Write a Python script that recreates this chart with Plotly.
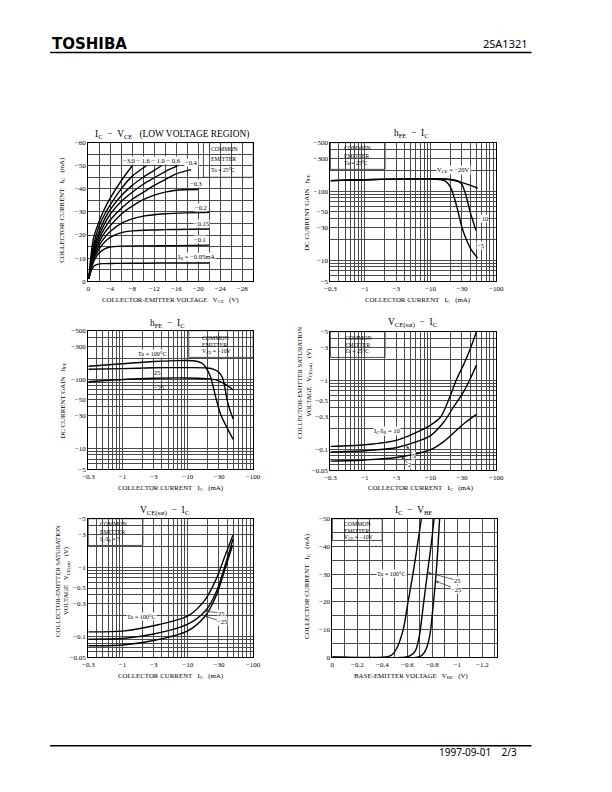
"""
2SA1321 datasheet page 2/3: six characteristic curves redrawn with plotly.

All currents / voltages are stored as magnitudes (the part is PNP, the
datasheet prints them as negative numbers, so the tick labels carry the sign).
"""

import math

import plotly.graph_objects as go

PAGE_W, PAGE_H = 612, 792
OX, OY = 8, 8  # default <body> margin of the page plotly writes
W, H = PAGE_W - 2 * OX, PAGE_H - 2 * OY
SERIF = "Liberation Serif"
M = "\u2212"  # minus sign
SP = "\u00a0"

# ---------------- IC - VCE (low voltage region), Ta = 25C ----------------
vce_ib005 = [0.1, 0.3, 0.6, 1.0, 1.5, 2.5, 5, 10, 16, 22]
ic_ib005 = [1, 2.8, 4.8, 6.4, 7.2, 7.6, 7.7, 7.8, 7.9, 7.9]
vce_ib01 = [0.1, 0.5, 1, 1.5, 2, 3, 4, 6, 10, 16, 22]
ic_ib01 = [1, 5, 8.5, 10.8, 12.3, 14, 14.8, 15.2, 15.3, 15.4, 15.6]
vce_ib015 = [0.1, 0.5, 1, 2, 3, 4, 6, 8, 12, 16, 22]
ic_ib015 = [1, 5.5, 9.5, 14, 17, 19, 21, 21.8, 22.2, 22.4, 22.6]
vce_ib02 = [0.1, 0.5, 1, 2, 3, 4, 6, 8, 10, 14, 18, 22]
ic_ib02 = [1, 6, 10.5, 15.5, 19, 21.5, 25, 27, 28.2, 29.2, 29.6, 29.8]
vce_ib03 = [0.1, 0.5, 1, 2, 3, 4, 6, 8, 10, 12, 14, 16, 20]
ic_ib03 = [1, 6.5, 11.5, 17, 21, 24, 29, 32.5, 35.3, 37.3, 38.6, 39.4, 39.7]
vce_ib04 = [0.1, 0.5, 1, 2, 3, 4, 6, 8, 10, 12, 14, 16, 18.7]
ic_ib04 = [1, 7, 12.5, 18.5, 23, 26.5, 31.5, 35.5, 38.5, 41.5, 44, 46.5, 48.3]
vce_ib06 = [0.1, 0.5, 1, 2, 3, 4, 6, 8, 10, 12, 14, 16.3]
ic_ib06 = [1, 7.5, 13.5, 20, 25, 29, 34.5, 38.5, 42, 44.8, 47.5, 50]
vce_ib10 = [0.1, 0.5, 1, 2, 3, 4, 6, 8, 10, 12, 13.3]
ic_ib10 = [1, 8, 14.5, 21.5, 27, 31, 37, 41.5, 45, 48, 50]
vce_ib16 = [0.1, 0.5, 1, 2, 3, 4, 6, 8, 10.6]
ic_ib16 = [1, 9, 16, 24, 29, 33, 40, 45.5, 50]
vce_ib30 = [0.1, 0.5, 1, 2, 3, 4, 6, 8]
ic_ib30 = [1, 11, 19, 26, 31.5, 36, 43.5, 50]

# ---------------- hFE - IC, Ta = 25C, VCE varies ----------------
ic_vce20 = [0.3, 1, 3, 10, 15, 20, 25, 30, 40, 52]
hfe_vce20 = [142, 146, 149, 151, 150, 146, 140, 133, 122, 110]
ic_vce10 = [0.3, 1, 3, 10, 20, 26, 30, 33, 36, 40, 45, 49]
hfe_vce10 = [142, 146, 149, 151, 148, 140, 125, 100, 75, 50, 35, 27]
ic_vce5 = [0.3, 1, 3, 10, 14, 17, 20, 23, 26, 30, 35, 42, 52]
hfe_vce5 = [142, 146, 149, 150, 147, 138, 115, 80, 52, 30, 20, 14, 10.8]

# ---------------- hFE - IC, VCE = -10V, temperature ----------------
ic_t100 = [0.3, 1, 3, 7, 10, 13, 16, 18, 20, 22.7, 27, 32, 40, 49.5]
hfe_t100 = [154, 167, 180, 185, 186, 183, 172, 158, 135, 102, 53, 30.5, 19.7, 13.4]
ic_t25 = [0.3, 1, 3, 10, 20, 25, 30, 34, 37, 40, 44, 49.5]
hfe_t25 = [139, 142, 146, 147, 145, 138, 125, 105, 75, 50, 36, 26.5]
ic_tm25 = [0.3, 1, 3, 10, 18, 28, 36, 45, 49.5]
hfe_tm25 = [91.5, 98.7, 103, 104, 102, 97, 86, 75, 69.5]

# ---------------- VCE(sat) - IC, Ta = 25C, IC/IB varies ----------------
ic_r10 = [0.3, 1, 3.2, 10, 14.3, 20, 25, 31.6, 40, 50]
vs_r10 = [0.110, 0.116, 0.137, 0.224, 0.295, 0.60, 1.04, 1.65, 2.8, 5.0]
ic_r5 = [0.3, 1, 3.2, 10, 16, 22.4, 31.6, 40, 50]
vs_r5 = [0.0914, 0.095, 0.107, 0.158, 0.25, 0.41, 0.67, 1.04, 1.65]
ic_r2 = [0.3, 1, 3.2, 10, 16, 25, 35, 50]
vs_r2 = [0.0673, 0.070, 0.0767, 0.0986, 0.13, 0.19, 0.25, 0.32]

# ---------------- VCE(sat) - IC, IC/IB = 5, temperature ----------------
ic_s100 = [0.3, 1, 3, 10, 18.5, 27.6, 36.7, 49]
vs_s100 = [0.116, 0.119, 0.142, 0.197, 0.34, 0.695, 1.42, 2.89]
ic_s25 = [0.3, 1, 3, 10, 18.5, 27.6, 36.7, 49.5]
vs_s25 = [0.091, 0.093, 0.108, 0.150, 0.232, 0.45, 1.02, 2.59]
ic_sm25 = [0.3, 1, 3, 10, 18.5, 27.6, 36.7, 48.5]
vs_sm25 = [0.073, 0.075, 0.087, 0.12, 0.197, 0.40, 0.91, 2.08]

# ---------------- IC - VBE, VCE = -10V ----------------
vbe_b100 = [0, 0.40, 0.45, 0.48, 0.51, 0.54, 0.57, 0.60, 0.65, 0.712]
ic_b100 = [0, 0, 0.3, 1, 2.8, 6, 10.5, 18.5, 31.5, 50]
vbe_b25 = [0, 0.58, 0.63, 0.665, 0.696, 0.73, 0.761, 0.79, 0.814]
ic_b25 = [0, 0, 0.8, 2.4, 7.7, 19.6, 30.6, 40.5, 50]
vbe_bm25 = [0, 0.68, 0.72, 0.75, 0.78, 0.805, 0.825, 0.843, 0.858]
ic_bm25 = [0, 0, 0.8, 3, 8, 18, 27.5, 38.5, 50]

# tick labels
ic_log_ticks = [0.3, 1, 3, 10, 30, 100]
hfe_ticks = [5, 10, 30, 50, 100, 300, 500]
vsat_ticks = [0.05, 0.1, 0.3, 0.5, 1, 3, 5]


def px(x):
    return (x - OX) / W


def py(y):
    return 1 - (y - OY) / H


def neg(v):
    return "0" if v == 0 else M + f"{v:g}"


def log_grid(lo, hi):
    vals = []
    for k in range(-3, 4):
        for m in range(1, 10):
            v = round(m * 10 ** k, 6)
            if lo - 1e-9 <= v <= hi + 1e-9:
                vals.append(v)
    return vals


def lin_grid(hi, step):
    n = int(round(hi / step))
    return [round(i * step, 6) for i in range(n + 1)]


AX = dict(showline=True, mirror=True, linecolor="black", linewidth=1.1,
          showgrid=True, gridcolor="#4a4a4a", gridwidth=0.6, zeroline=False,
          ticks="", tickfont=dict(family=SERIF, size=7, color="black"),
          fixedrange=True, tickangle=0)


def log_axis(domain, lo, hi, labels):
    grid = log_grid(lo, hi)
    text = [neg(v) if any(abs(v - t) < 1e-9 for t in labels) else "" for v in grid]
    return dict(AX, type="log", domain=domain,
                range=[math.log10(lo) - 0.002, math.log10(hi) + 0.002],
                tickmode="array", tickvals=grid, ticktext=text)


def lin_axis(domain, hi, step, label_step, label_max):
    grid = lin_grid(hi, step)
    text = []
    for v in grid:
        r = round(v / label_step, 6)
        text.append(neg(v) if abs(r - round(r)) < 1e-6 and v <= label_max + 1e-9 else "")
    return dict(AX, type="linear", domain=domain, range=[0, hi],
                tickmode="array", tickvals=grid, ticktext=text)


# plot boxes in page pixels: x0, x1, y0 (top), y1 (bottom)
boxes = {
    1: (84, 253, 140, 280),
    2: (332, 502, 140, 280),
    3: (84, 253, 330, 470),
    4: (332, 502, 331, 471),
    5: (84, 253, 520, 660),
    6: (334, 503, 520, 660),
}


def dom(i):
    x0, x1, y0, y1 = boxes[i]
    return [px(x0), px(x1)], [py(y1), py(y0)]


fig = go.Figure()

line = dict(color="black", width=1.4, shape="spline", smoothing=0.8)


def curve(i, x, y):
    fig.add_trace(go.Scatter(x=x, y=y, mode="lines", line=line,
                             xaxis=f"x{i}", yaxis=f"y{i}",
                             showlegend=False, hoverinfo="skip"))


for vx, vy in [(vce_ib005, ic_ib005), (vce_ib01, ic_ib01), (vce_ib015, ic_ib015),
               (vce_ib02, ic_ib02), (vce_ib03, ic_ib03), (vce_ib04, ic_ib04),
               (vce_ib06, ic_ib06), (vce_ib10, ic_ib10), (vce_ib16, ic_ib16),
               (vce_ib30, ic_ib30)]:
    curve(1, vx, vy)
for vx, vy in [(ic_vce20, hfe_vce20), (ic_vce10, hfe_vce10), (ic_vce5, hfe_vce5)]:
    curve(2, vx, vy)
for vx, vy in [(ic_t100, hfe_t100), (ic_t25, hfe_t25), (ic_tm25, hfe_tm25)]:
    curve(3, vx, vy)
for vx, vy in [(ic_r10, vs_r10), (ic_r5, vs_r5), (ic_r2, vs_r2)]:
    curve(4, vx, vy)
for vx, vy in [(ic_s100, vs_s100), (ic_s25, vs_s25), (ic_sm25, vs_sm25)]:
    curve(5, vx, vy)
for vx, vy in [(vbe_b100, ic_b100), (vbe_b25, ic_b25), (vbe_bm25, ic_bm25)]:
    curve(6, vx, vy)

layout_axes = {}
d = dom(1)
layout_axes["xaxis"] = lin_axis(d[0], 30, 2, 4, 28)
layout_axes["yaxis"] = lin_axis(d[1], 60, 5, 10, 60)
d = dom(2)
layout_axes["xaxis2"] = log_axis(d[0], 0.3, 100, ic_log_ticks)
layout_axes["yaxis2"] = log_axis(d[1], 5, 500, hfe_ticks)
d = dom(3)
layout_axes["xaxis3"] = log_axis(d[0], 0.3, 100, ic_log_ticks)
layout_axes["yaxis3"] = log_axis(d[1], 5, 500, hfe_ticks)
d = dom(4)
layout_axes["xaxis4"] = log_axis(d[0], 0.3, 100, ic_log_ticks)
layout_axes["yaxis4"] = log_axis(d[1], 0.05, 5, vsat_ticks)
d = dom(5)
layout_axes["xaxis5"] = log_axis(d[0], 0.3, 100, ic_log_ticks)
layout_axes["yaxis5"] = log_axis(d[1], 0.05, 5, vsat_ticks)
d = dom(6)
layout_axes["xaxis6"] = lin_axis(d[0], 1.32, 0.1, 0.2, 1.2)
layout_axes["yaxis6"] = lin_axis(d[1], 50, 5, 10, 50)
for i in range(1, 7):
    k = "" if i == 1 else str(i)
    layout_axes[f"xaxis{k}"]["anchor"] = f"y{k}" if k else "y"
    layout_axes[f"yaxis{k}"]["anchor"] = f"x{k}" if k else "x"


def text(x, y, s, size=6.5, bg=None, xanchor="center", yanchor="middle", **kw):
    fig.add_annotation(x=px(x), y=py(y), xref="paper", yref="paper", text=s,
                       showarrow=False, bgcolor=bg, borderpad=0,
                       xanchor=xanchor, yanchor=yanchor,
                       font=dict(family=SERIF, size=size, color="black"), **kw)


def stack(x, ys, rows):
    # condition block, one annotation per row so the spacing follows the sheet
    for yy, row in zip(ys, rows):
        text(x, yy, row, size=5.8, xanchor="left")


def arrow(i, x, y, s, ax, ay):
    fig.add_annotation(x=x, y=y, xref=f"x{i}", yref=f"y{i}", text=s,
                       showarrow=True, arrowhead=2, arrowsize=0.7, arrowwidth=0.8,
                       ax=ax, ay=ay, standoff=0, bgcolor="white", borderpad=0,
                       font=dict(family=SERIF, size=6.5, color="black"))


def white_box(x0, x1, y0, y1):
    fig.add_shape(type="rect", xref="paper", yref="paper",
                  x0=px(x0), x1=px(x1), y0=py(y1), y1=py(y0),
                  fillcolor="white", line=dict(color="black", width=0.7),
                  layer="between")


# titles
TS = 9.4
text(170, 131.5, f"I<sub>C</sub>{SP}{SP}{M}{SP}{SP}V<sub>CE</sub>{SP}{SP}{SP}(LOW VOLTAGE REGION)", size=TS)
text(415, 131, f"h<sub>FE</sub>{SP}{SP}{M}{SP}{SP}I<sub>C</sub>", size=TS)
text(165, 323, f"h<sub>FE</sub>{SP}{SP}{M}{SP}{SP}I<sub>C</sub>", size=TS)
text(417, 322, f"V<sub>CE(sat)</sub>{SP}{SP}{M}{SP}{SP}I<sub>C</sub>", size=TS)
text(163, 512, f"V<sub>CE(sat)</sub>{SP}{SP}{M}{SP}{SP}I<sub>C</sub>", size=TS)
text(417, 512, f"I<sub>C</sub>{SP}{SP}{M}{SP}{SP}V<sub>BE</sub>", size=TS)

# axis titles
AS = 6.9
ic_title = f"COLLECTOR CURRENT{SP}{SP}{SP}I<sub>C</sub>{SP}{SP}{SP}(mA)"
hfe_title = f"DC CURRENT GAIN{SP}{SP}{SP}h<sub>FE</sub>"
vsat_title = (f"COLLECTOR-EMITTER SATURATION<br>VOLTAGE{SP}{SP}{SP}V<sub>CE(sat)</sub>"
              f"{SP}{SP}{SP}(V)")
text(57, 208, ic_title, size=AS, textangle=-90)
text(168, 299.5, f"COLLECTOR-EMITTER VOLTAGE{SP}{SP}{SP}V<sub>CE</sub>{SP}{SP}{SP}(V)", size=AS)
text(308, 210, hfe_title, size=AS, textangle=-90)
text(421, 298.7, ic_title, size=AS)
text(58, 400, hfe_title, size=AS, textangle=-90)
text(168, 489, ic_title, size=AS)
text(305.5, 383, vsat_title, size=6.6, textangle=-90)
text(424, 489, ic_title, size=AS)
text(57, 583, vsat_title, size=6.6, textangle=-90)
text(168, 679, ic_title, size=AS)
text(308, 588, ic_title, size=AS, textangle=-90)
text(415, 679, f"BASE-EMITTER VOLTAGE{SP}{SP}{SP}V<sub>BE</sub>{SP}{SP}{SP}(V)", size=AS)

# condition boxes
white_box(202, 253, 140, 175)
stack(209, [146.7, 157, 167.3], ["COMMON", "EMITTER", "Ta = 25°C"])
white_box(332, 388, 140, 167)
stack(345, [145, 153.3, 161], ["COMMON", "EMITTER", "Ta = 25°C"])
white_box(187, 253, 330, 357)
stack(200, [337.3, 344.3, 351], ["COMMON", "EMITTER", f"V<sub>CE</sub> = {M}10V"])
white_box(332, 388, 331, 357)
stack(345.5, [337.3, 344.3, 350.7], ["COMMON", "EMITTER", "Ta = 25°C"])
white_box(84, 140, 520, 547)
stack(95.5, [525.7, 533.5, 540.5], ["COMMON", "EMITTER", "I<sub>C</sub>/I<sub>B</sub> = 5"])
white_box(334, 385, 520, 542)
stack(345, [525.7, 532.7, 539.3], ["COMMON", "EMITTER", f"V<sub>CE</sub> = {M}10V"])

# curve labels, IC - VCE
text(149, 158.5, f"{M}3.0 {M} 1.6 {M} 1.0 {M} 0.6", bg="white")
text(190, 160, f"{M}0.4", bg="white")
text(194, 181.5, f"{M}0.3", bg="white")
text(199, 205.5, f"{M}0.2", bg="white")
text(200, 222, f"{M}0.15", bg="white")
text(198, 238, f"{M}0.1", bg="white")
text(194.5, 256, f"I<sub>B</sub> = {M}0.05mA", bg="white")

# hFE - IC (VCE)
text(458, 168, f"V<sub>CE</sub> = {M}20V", bg="white")
text(488, 217, f"{M}10", bg="white")
text(486, 244, f"{M}5", bg="white")

# hFE - IC (Ta)
text(150, 352.7, "Ta = 100°C", size=6.2, bg="white")
text(155, 372.5, "25")
text(156, 387, f"{M}25")

# VCE(sat) - IC (IC/IB)
text(390, 431.7, f"I<sub>C</sub>/I<sub>B</sub> = 10", bg="white")
arrow(4, math.log10(4.3), math.log10(0.112), "5", 7, 10)
arrow(4, math.log10(3.6), math.log10(0.078), "2", 8, 8)

# VCE(sat) - IC (Ta)
text(139, 619, "Ta = 100°C", size=6.2, bg="white")
arrow(5, math.log10(18.5), math.log10(0.232), "25", 16, 2)
arrow(5, math.log10(18.5), math.log10(0.197), f"{M}25", 17, 6)

# IC - VBE
text(395, 575, "Ta = 100°C", size=6.2, bg="white")
arrow(6, 0.761, 30.6, "25", 30, 8)
arrow(6, 0.825, 27.5, f"{M}25", 21, 8)

# page header / footer
fig.add_annotation(x=px(45), y=py(40), xref="paper", yref="paper", showarrow=False,
                   text="<b>TOSHIBA</b>", xanchor="left", yanchor="middle",
                   font=dict(family="DejaVu Sans", size=15, color="black"))
fig.add_annotation(x=px(536), y=py(40), xref="paper", yref="paper", showarrow=False,
                   text="2SA1321", xanchor="right", yanchor="middle",
                   font=dict(family="Noto Sans", size=11, color="black"))
fig.add_annotation(x=px(525), y=py(756), xref="paper", yref="paper", showarrow=False,
                   text=f"1997-09-01{SP}{SP}{SP}{SP}2/3", xanchor="right", yanchor="middle",
                   font=dict(family="Noto Sans", size=10, color="black"))
for yy in (49, 749.5):
    fig.add_shape(type="line", xref="paper", yref="paper",
                  x0=px(45), x1=px(538), y0=py(yy), y1=py(yy),
                  line=dict(color="black", width=1.5))

fig.update_layout(
    width=W, height=H,
    margin=dict(l=0, r=0, t=0, b=0),
    paper_bgcolor="white", plot_bgcolor="white",
    showlegend=False,
    **layout_axes,
)

fig.write_html("out.html")
